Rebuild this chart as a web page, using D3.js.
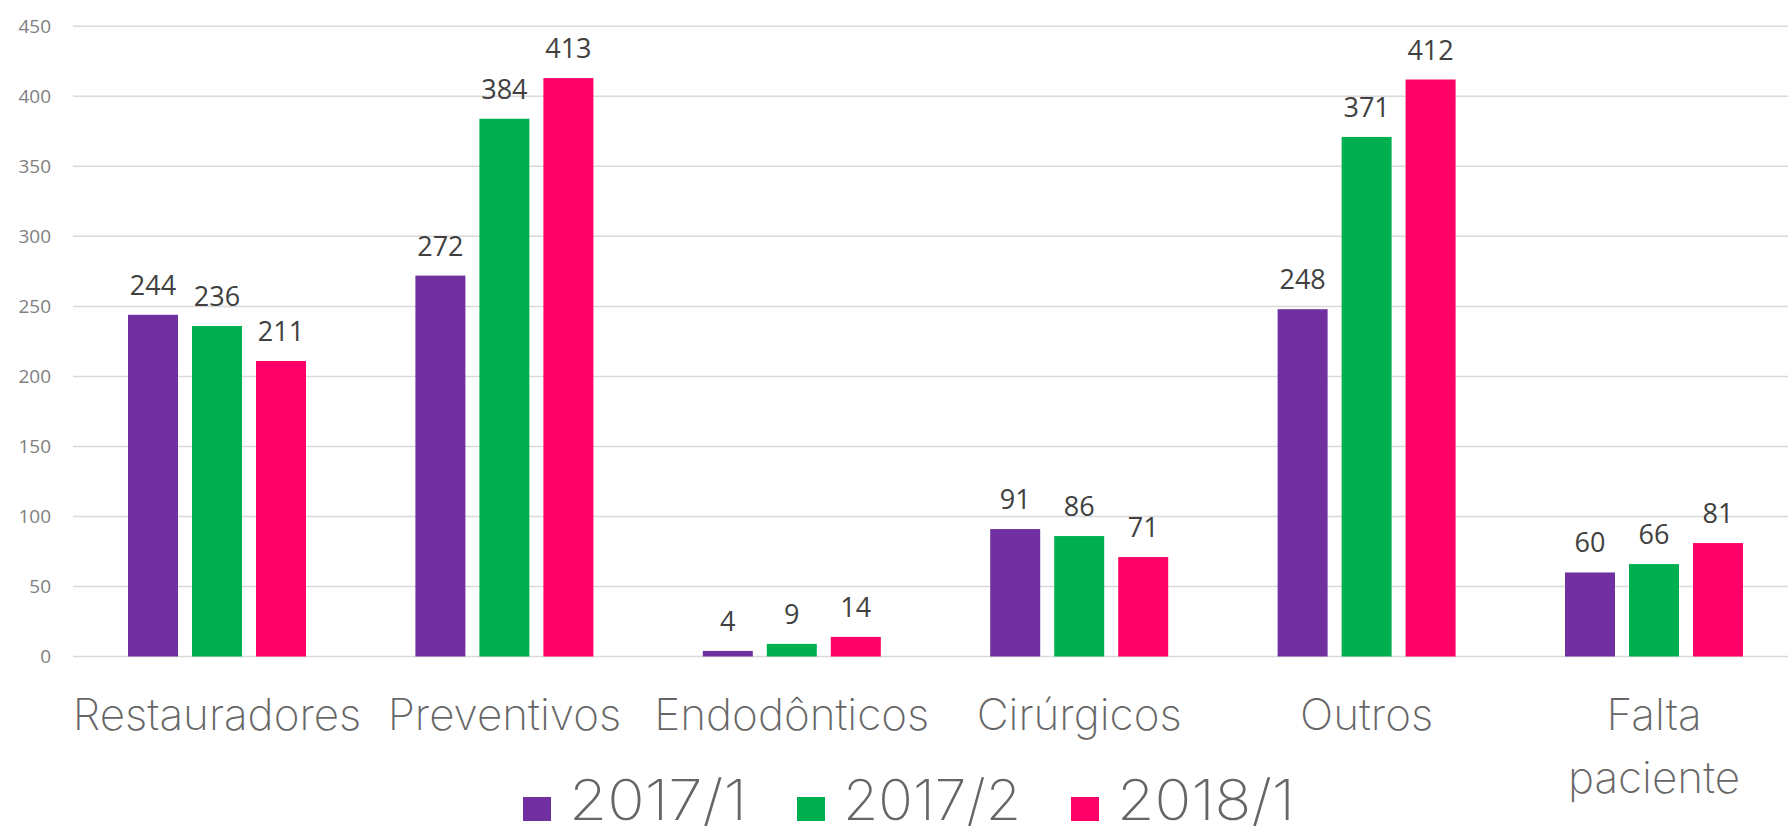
<!DOCTYPE html>
<html>
<head>
<meta charset="utf-8">
<script src="https://cdn.jsdelivr.net/npm/d3@7"></script>
<style>
  html, body { margin: 0; padding: 0; background: #fff; }
  svg { display: block; }
</style>
</head>
<body>
<svg id="chart" width="1788" height="834"></svg>
<script>
// data
const categories = [["Restauradores"], ["Preventivos"], ["Endodônticos"], ["Cirúrgicos"], ["Outros"], ["Falta", "paciente"]]
const series = ["2017/1", "2017/2", "2018/1"]
const v2017_1 = [244, 272, 4, 91, 248, 60]
const v2017_2 = [236, 384, 9, 86, 371, 66]
const v2018_1 = [211, 413, 14, 71, 412, 81]
const yTicks = [0, 50, 100, 150, 200, 250, 300, 350, 400, 450]
const colors = ["#7030A0", "#00B050", "#FF0066"]

const values = [v2017_1, v2017_2, v2018_1]
const catKeys = categories.map((c) => c.join(" "))

let thinFont = "Inter, Lato, 'Open Sans', sans-serif"

let svg = d3.select("#chart")

let x0 = d3.scaleBand()
    .domain(catKeys)
    .range([73.3, 1797.7])
    .padding(0)

let x1 = d3.scaleBand()
    .domain(series)
    .range([-89, 89])
    .paddingInner(14 / 64)
    .paddingOuter(0)

let y = d3.scaleLinear()
    .domain([0, 450])
    .range([656.5, 26.3])

// gridlines
svg.append("g")
    .selectAll("line")
    .data(yTicks)
    .join("line")
    .attr("x1", 73)
    .attr("x2", 1788)
    .attr("y1", (d) => y(d))
    .attr("y2", (d) => y(d))
    .style("stroke", "#d9d9d9")
    .style("stroke-width", 1.5)

// y axis labels
let yAxis = svg.append("g")
    .attr("transform", "translate(51,0)")
    .call(d3.axisLeft(y).tickValues(yTicks).tickSize(0).tickPadding(0))
yAxis.select(".domain").remove()
yAxis.selectAll("text")
    .attr("font-family", "'Open Sans', sans-serif")
    .attr("font-size", 19)
    .attr("fill", "#808080")

// bars
let groups = svg.append("g")
    .selectAll("g")
    .data(catKeys)
    .join("g")
    .attr("transform", (d) => "translate(" + (x0(d) + x0.bandwidth() / 2) + ",0)")

groups.selectAll("rect")
    .data((d, i) => series.map((s, j) => ({ s: s, v: values[j][i], c: colors[j] })))
    .join("rect")
    .attr("x", (d) => x1(d.s))
    .attr("width", x1.bandwidth())
    .attr("y", (d) => y(d.v))
    .attr("height", (d) => y(0) - y(d.v))
    .style("fill", (d) => d.c)

groups.selectAll("text.val")
    .data((d, i) => series.map((s, j) => ({ s: s, v: values[j][i] })))
    .join("text")
    .attr("class", "val")
    .attr("x", (d) => x1(d.s) + x1.bandwidth() / 2)
    .attr("y", (d) => y(d.v) - 20)
    .attr("text-anchor", "middle")
    .attr("font-family", "'Open Sans', sans-serif")
    .attr("font-size", 27)
    .attr("fill", "#404040")
    .text((d) => d.v)

// category labels
let catText = svg.append("g")
    .selectAll("text")
    .data(categories)
    .join("text")
    .attr("x", (d, i) => x0(catKeys[i]) + x0.bandwidth() / 2)
    .attr("y", 730)
    .attr("text-anchor", "middle")
    .attr("font-family", thinFont)
    .attr("font-weight", 200)
    .attr("font-size", 44)
    .attr("fill", "#666666")

catText.selectAll("tspan")
    .data((d) => d)
    .join("tspan")
    .attr("x", function () { return this.parentNode.getAttribute("x") })
    .attr("dy", (d, i) => i === 0 ? 0 : 63)
    .text((d) => d)

// legend
let legend = svg.append("g")
    .selectAll("g")
    .data(series)
    .join("g")
    .attr("transform", (d, i) => "translate(" + (523 + i * 274) + ",0)")

legend.append("rect")
    .attr("x", 0)
    .attr("y", 797)
    .attr("width", 28)
    .attr("height", 24)
    .style("fill", (d, i) => colors[i])

legend.append("text")
    .attr("x", 46)
    .attr("y", 820)
    .attr("font-family", thinFont)
    .attr("font-weight", 200)
    .attr("font-size", 56)
    .attr("textLength", 178)
    .attr("lengthAdjust", "spacingAndGlyphs")
    .attr("fill", "#666666")
    .text((d) => d)
</script>
</body>
</html>
